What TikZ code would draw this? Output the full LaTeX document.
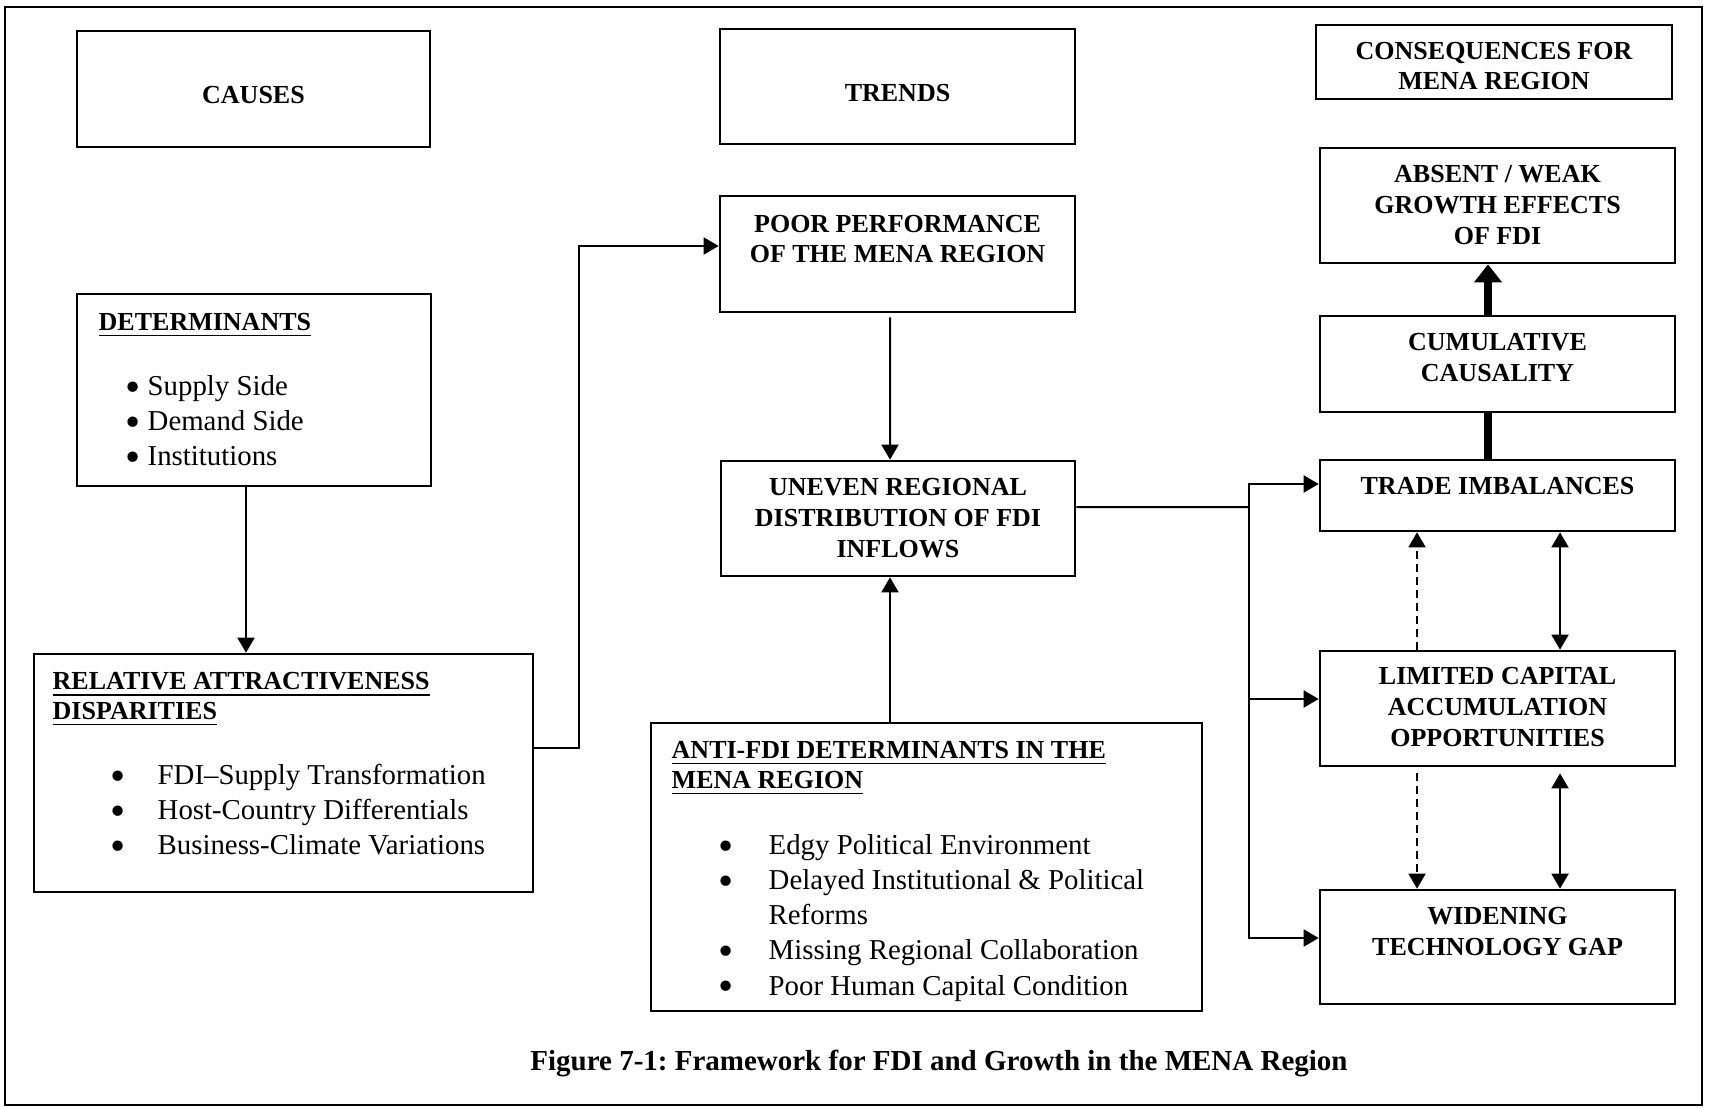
\documentclass[tikz,border=0pt]{standalone}
\usepackage{fontspec}
\setmainfont{Liberation Serif}
\usetikzlibrary{arrows.meta}
\frenchspacing
\newcommand{\bigbul}{\raisebox{-1.6pt}[0pt][0pt]{\fontsize{12.3}{10}\selectfont\textbullet}}

\begin{document}
\begin{tikzpicture}[
    box/.style={draw, line width=0.027cm, inner sep=0pt},
    head/.style={font=\fontsize{7.4}{8.8}\selectfont\bfseries, align=center, inner sep=0pt},
    uhead/.style={font=\fontsize{7.4}{8.5}\selectfont\bfseries, inner sep=0pt, anchor=base west},
    items/.style={font=\fontsize{8.2}{10.0}\selectfont, inner sep=0pt, anchor=base west},
    conn/.style={line width=0.020cm},
    arr/.style={conn, -{Triangle[length=0.15cm,width=0.17cm]}},
    darr/.style={conn, {Triangle[length=0.15cm,width=0.17cm]}-{Triangle[length=0.15cm,width=0.17cm]}},
    dasharr/.style={arr, dash pattern=on 0.08cm off 0.05cm},
    heavy/.style={line width=0.080cm},
    heavyarr/.style={heavy, -{Triangle[length=0.18cm,width=0.27cm]}}
  ]
                \useasboundingbox (0,0) rectangle (17.100000,11.070000);
                {

                % Drawing outer frame
                \draw [line width=0.020cm] (0.050000,0.020000) rectangle (17.020000,11.000000);%

                % Marking box CAUSES
                \node [box, minimum width=3.530000cm, minimum height=1.160000cm] (causes) at (2.535000,10.180000) {};%
                \node [head] (causes-t) at (2.535000,10.120000) {CAUSES};%

                % Marking box TRENDS
                \node [box, minimum width=3.550000cm, minimum height=1.150000cm] (trends) at (8.975000,10.205000) {};%
                \node [head] (trends-t) at (8.975000,10.140000) {TRENDS};%

                % Marking box CONSEQUENCES
                \node [box, minimum width=3.560000cm, minimum height=0.740000cm] (conseq) at (14.940000,10.450000) {};%
                \node [head] (conseq-t) at (14.940000,10.410000) {CONSEQUENCES FOR\\MENA REGION};%

                % Marking box DETERMINANTS
                \node [box, minimum width=3.540000cm, minimum height=1.920000cm] (det) at (2.540000,7.170000) {};%
                \node [uhead] (det-t) at (0.980000,7.765000) {\underline{DETERMINANTS}};%
                \node [items] (det-i) at (1.250000,7.115000) {\begin{tabular}[t]{@{}p{0.220000cm}@{}l@{}}
                  \bigbul & Supply Side\\
                  \bigbul & Demand Side\\
                  \bigbul & Institutions
                \end{tabular}};%

                % Marking box RELATIVE ATTRACTIVENESS
                \node [box, minimum width=4.990000cm, minimum height=2.380000cm] (rel) at (2.835000,3.340000) {};%
                \node [uhead] (rel-t) at (0.520000,4.175000) {\begin{tabular}[t]{@{}l@{}}
                  \underline{RELATIVE ATTRACTIVENESS}\\
                  \underline{DISPARITIES}
                \end{tabular}};%
                \node [items] (rel-i) at (1.100000,3.225000) {\begin{tabular}[t]{@{}p{0.470000cm}@{}l@{}}
                  \bigbul & FDI--Supply Transformation\\
                  \bigbul & Host-Country Differentials\\
                  \bigbul & Business-Climate Variations
                \end{tabular}};%

                % Marking box POOR PERFORMANCE
                \node [box, minimum width=3.550000cm, minimum height=1.160000cm] (poor) at (8.975000,8.530000) {};%
                \node [head] (poor-t) at (8.975000,8.680000) {POOR PERFORMANCE\\OF THE MENA REGION};%

                % Marking box UNEVEN DISTRIBUTION
                \node [box, minimum width=3.540000cm, minimum height=1.150000cm] (uneven) at (8.980000,5.885000) {};%
                \node [head] (uneven-t) at (8.980000,5.890000) {UNEVEN REGIONAL\\DISTRIBUTION OF FDI\\INFLOWS};%

                % Marking box ANTI-FDI DETERMINANTS
                \node [box, minimum width=5.510000cm, minimum height=2.880000cm] (anti) at (9.265000,2.400000) {};%
                \node [uhead] (anti-t) at (6.710000,3.485000) {\begin{tabular}[t]{@{}l@{}}
                  \underline{ANTI-FDI DETERMINANTS IN THE}\\
                  \underline{MENA REGION}
                \end{tabular}};%
                \node [items] (anti-i) at (7.180000,2.525000) {\begin{tabular}[t]{@{}p{0.500000cm}@{}l@{}}
                  \bigbul & Edgy Political Environment\\
                  \bigbul & Delayed Institutional \& Political\\
                          & Reforms\\
                  \bigbul & Missing Regional Collaboration\\
                  \bigbul & Poor Human Capital Condition
                \end{tabular}};%

                % Marking box ABSENT / WEAK GROWTH
                \node [box, minimum width=3.550000cm, minimum height=1.150000cm] (absent) at (14.975000,9.015000) {};%
                \node [head] (absent-t) at (14.975000,9.020000) {ABSENT / WEAK\\GROWTH EFFECTS\\OF FDI};%

                % Marking box CUMULATIVE CAUSALITY
                \node [box, minimum width=3.550000cm, minimum height=0.960000cm] (cumul) at (14.975000,7.430000) {};%
                \node [head] (cumul-t) at (14.975000,7.495000) {CUMULATIVE\\CAUSALITY};%

                % Marking box TRADE IMBALANCES
                \node [box, minimum width=3.550000cm, minimum height=0.710000cm] (trade) at (14.975000,6.115000) {};%
                \node [head] (trade-t) at (14.975000,6.210000) {TRADE IMBALANCES};%

                % Marking box LIMITED CAPITAL
                \node [box, minimum width=3.550000cm, minimum height=1.150000cm] (limited) at (14.975000,3.985000) {};%
                \node [head] (limited-t) at (14.975000,4.000000) {LIMITED CAPITAL\\ACCUMULATION\\OPPORTUNITIES};%

                % Marking box WIDENING GAP
                \node [box, minimum width=3.550000cm, minimum height=1.140000cm] (widen) at (14.975000,1.600000) {};%
                \node [head] (widen-t) at (14.975000,1.755000) {WIDENING\\TECHNOLOGY GAP};%

                % Marking caption
                \node [font=\fontsize{8.25}{10}\selectfont\bfseries, inner sep=0pt] (caption) at (9.390000,0.440000) {Figure 7-1: Framework for FDI and Growth in the MENA Region};%

                % Drawing line det rel
                \draw [arr] ([xshift=-0.080000cm]det.south) -- ([xshift=-0.080000cm]det.south |- rel.north);%

                % Drawing line rel poor
                \draw [arr] ([yshift=0.250000cm]rel.east) -- ++(0.450000,0) |- ([yshift=0.080000cm]poor.west);%

                % Drawing line poor uneven
                \draw [arr] ([xshift=-0.075000cm,yshift=-0.040000cm]poor.south) -- ([xshift=-0.080000cm]uneven.north);%

                % Drawing line anti uneven
                \draw [arr] ([xshift=-0.080000cm]uneven.south |- anti.north) -- ([xshift=-0.080000cm]uneven.south);%

                % Drawing line uneven split
                \coordinate (split) at (12.490000,6.000000);%
                \draw [conn] ([yshift=0.115000cm]uneven.east) -- (split);%
                \draw [arr] (split) |- ([yshift=0.115000cm]trade.west);%
                \draw [arr] (split) |- ([yshift=0.095000cm]limited.west);%
                \draw [arr] (split) |- ([yshift=0.090000cm]widen.west);%

                % Drawing line trade cumul absent
                \draw [heavy] ([xshift=-0.095000cm]trade.north) -- ([xshift=-0.095000cm]cumul.south);%
                \draw [heavyarr] ([xshift=-0.095000cm]cumul.north) -- ([xshift=-0.095000cm]absent.south);%

                % Drawing line limited trade
                \draw [dasharr] ([xshift=-0.805000cm]limited.north) -- ([xshift=-0.805000cm]trade.south);%
                \draw [darr] ([xshift=0.625000cm]limited.north) -- ([xshift=0.625000cm]trade.south);%

                % Drawing line limited widen
                \draw [dasharr] ([xshift=-0.805000cm,yshift=-0.060000cm]limited.south) -- ([xshift=-0.805000cm]widen.north);%
                \draw [darr] ([xshift=0.625000cm,yshift=-0.060000cm]limited.south) -- ([xshift=0.625000cm]widen.north);%
                }
\end{tikzpicture}
\end{document}
